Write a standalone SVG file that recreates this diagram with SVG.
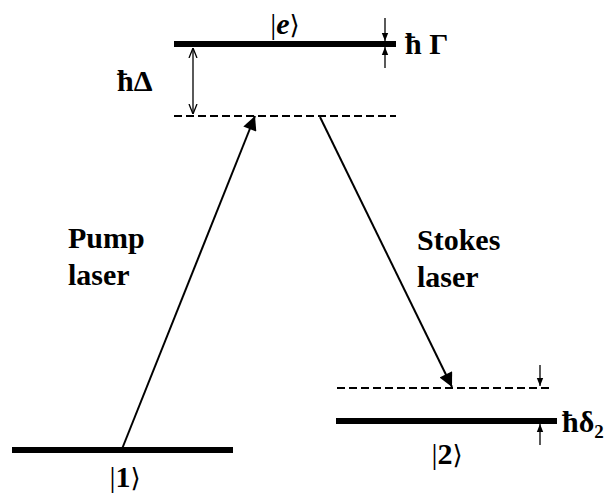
<svg xmlns="http://www.w3.org/2000/svg" width="608" height="494" viewBox="0 0 608 494">
<defs>
<marker id="bigA" viewBox="0 0 10 10" refX="10" refY="5" markerWidth="20" markerHeight="14" markerUnits="userSpaceOnUse" orient="auto">
<path d="M0,0 L10,5 L0,10 z" fill="#000"/>
</marker>
<marker id="sm" viewBox="0 0 10 10" refX="10" refY="5" markerWidth="8" markerHeight="8" markerUnits="userSpaceOnUse" orient="auto">
<path d="M0,1 L10,5 L0,9 z" fill="#000"/>
</marker>
<marker id="open" viewBox="0 0 10 10" refX="10" refY="5" markerWidth="10" markerHeight="10" markerUnits="userSpaceOnUse" orient="auto-start-reverse">
<path d="M0,1 L10,5 L0,9" fill="none" stroke="#000" stroke-width="1.3"/>
</marker>
</defs>
<g id="label-pump"><text font-family="Liberation Serif" font-weight="bold" font-size="30" x="68" y="248">Pump</text><text font-family="Liberation Serif" font-weight="bold" font-size="30" x="68" y="285">laser</text></g>
<g id="label-stokes"><text font-family="Liberation Serif" font-weight="bold" font-size="30" x="417" y="250">Stokes</text><text font-family="Liberation Serif" font-weight="bold" font-size="30" x="417" y="287">laser</text></g>
<g id="label-delta"><text font-family="Liberation Serif" font-weight="bold" font-size="30" x="117" y="91">ħΔ</text></g>
<g id="label-gamma"><text font-family="Liberation Serif" font-weight="bold" font-size="30" x="405" y="54">ħ Γ</text></g>
<g id="label-delta2"><text font-family="Liberation Serif" font-weight="bold" font-size="30" x="562" y="432">ħδ<tspan font-size="19" dy="6">2</tspan></text></g>
<g id="level-e">
<line stroke="#000" stroke-width="6" x1="174" y1="44" x2="396" y2="44"/>
<text font-family="Liberation Serif" font-size="30" x="285" y="34" text-anchor="middle">|<tspan font-style="italic" font-weight="bold">e</tspan><tspan font-family="DejaVu Serif" font-size="26">⟩</tspan></text>
</g>
<g id="virtual-upper">
<line stroke="#000" stroke-width="2" stroke-dasharray="8,4" x1="174" y1="116" x2="396" y2="116"/>
</g>
<g id="level-1">
<line stroke="#000" stroke-width="6" x1="12" y1="450" x2="233" y2="450"/>
<text font-family="Liberation Serif" font-size="30" x="125" y="487" text-anchor="middle">|<tspan font-weight="bold">1</tspan><tspan font-family="DejaVu Serif" font-size="26">⟩</tspan></text>
</g>
<g id="level-2">
<line stroke="#000" stroke-width="6" x1="336" y1="421" x2="557" y2="421"/>
<text font-family="Liberation Serif" font-size="30" x="447" y="464" text-anchor="middle">|<tspan font-weight="bold">2</tspan><tspan font-family="DejaVu Serif" font-size="26">⟩</tspan></text>
</g>
<g id="virtual-lower">
<line stroke="#000" stroke-width="2" stroke-dasharray="8,4" x1="337" y1="388" x2="553" y2="388"/>
</g>
<g id="connectors" stroke="#000" fill="none">
<line stroke-width="2" x1="122" y1="449" x2="255" y2="116" marker-end="url(#bigA)"/>
<line stroke-width="2" x1="320" y1="117" x2="452" y2="387" marker-end="url(#bigA)"/>
<line stroke-width="1.3" x1="193" y1="114" x2="193" y2="48" marker-start="url(#open)" marker-end="url(#open)"/>
<line stroke-width="1.3" x1="385" y1="18" x2="385" y2="41" marker-end="url(#sm)"/>
<line stroke-width="1.3" x1="385" y1="68" x2="385" y2="47" marker-end="url(#sm)"/>
<line stroke-width="1.3" x1="540" y1="365" x2="540" y2="386" marker-end="url(#sm)"/>
<line stroke-width="1.3" x1="540" y1="445" x2="540" y2="424" marker-end="url(#sm)"/>
</g>
</svg>
